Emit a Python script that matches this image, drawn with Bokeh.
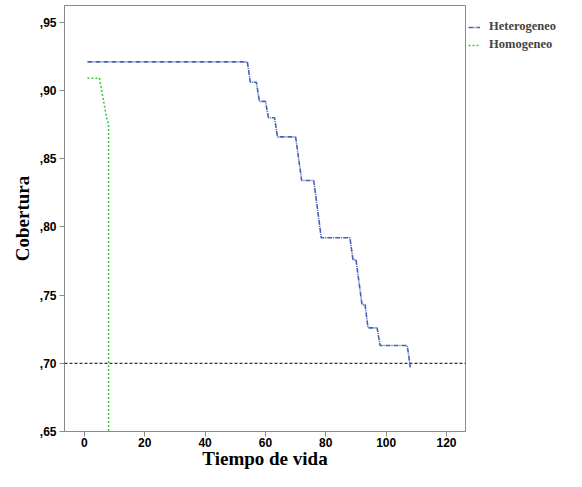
from bokeh.plotting import figure
from bokeh.models import Span, Legend, LegendItem, FixedTicker, Range1d, Title
from bokeh.embed import file_html
from bokeh.resources import INLINE

# Data
het_x = [1, 54, 55, 57, 58, 60, 61, 63, 64, 70, 72, 76, 78.5, 88, 89, 90, 92, 93, 94, 97, 98, 107, 108]
het_y = [0.921, 0.921, 0.906, 0.906, 0.892, 0.892, 0.880, 0.880, 0.866, 0.866, 0.834, 0.834,
         0.792, 0.792, 0.776, 0.776, 0.743, 0.743, 0.726, 0.726, 0.713, 0.713, 0.697]
hom_x = [1, 5, 7.5, 8, 8]
hom_y = [0.909, 0.909, 0.878, 0.876, 0.65]
ref_level = 0.70
xticks = [0, 20, 40, 60, 80, 100, 120]
yticks = [0.65, 0.70, 0.75, 0.80, 0.85, 0.90, 0.95]
ytick_labels = [",65", ",70", ",75", ",80", ",85", ",90", ",95"]

p = figure(frame_width=401, height=471, output_backend="svg", toolbar_location=None,
           x_range=Range1d(-6.6, 126.3), y_range=Range1d(0.65, 0.9623),
           min_border_left=55, min_border_right=100, min_border_top=5, min_border_bottom=38)

p.xgrid.visible = False
p.ygrid.visible = False
p.outline_line_color = "#8a8a8a"
p.outline_line_width = 1

r1 = p.line(het_x, het_y, line_color="#4560b8", line_width=1.6, line_dash="5 1 1 1")
r2 = p.line(hom_x, hom_y, line_color="#45c845", line_width=1.6, line_dash="2 2")

p.add_layout(Span(location=ref_level, dimension="width", line_color="black",
                  line_dash="3 2", line_width=1))

for ax in (p.xaxis[0], p.yaxis[0]):
    ax.axis_line_color = "#8a8a8a"
    ax.major_tick_line_color = "#8a8a8a"
    ax.minor_tick_line_color = None
    ax.major_tick_out = 5
    ax.major_tick_in = 0
    ax.major_label_text_font = "Liberation Sans"
    ax.major_label_text_font_style = "bold"
    ax.major_label_text_font_size = "12px"
    ax.major_label_text_color = "black"
    ax.axis_label_text_font = "Liberation Serif"
    ax.axis_label_text_font_style = "bold"
    ax.axis_label_text_color = "black"

p.xaxis.ticker = FixedTicker(ticks=xticks)
p.yaxis.ticker = FixedTicker(ticks=yticks)
p.yaxis.major_label_overrides = {t: l for t, l in zip(yticks, ytick_labels)}
p.xaxis.axis_label = "Tiempo de vida"
p.yaxis.axis_label = "Cobertura"
p.xaxis.axis_label_text_font_size = "19px"
p.yaxis.axis_label_text_font_size = "19px"
p.xaxis.major_label_standoff = 1
p.xaxis.axis_label_standoff = -2
p.yaxis.major_label_standoff = 3
p.yaxis.axis_label_standoff = 4

# small blank spacer outside the y-axis label
p.add_layout(Title(text=" ", text_font_size="5px", standoff=0, offset=0), "left")

legend = Legend(items=[LegendItem(label="Heterogeneo", renderers=[r1]),
                       LegendItem(label="Homogeneo", renderers=[r2])],
                title=" ", title_text_font_size="9px", title_standoff=1,
                location="top_left", border_line_color=None, background_fill_alpha=0,
                label_text_font="Liberation Serif", label_text_font_style="bold",
                label_text_font_size="12.5px", glyph_width=12, glyph_height=12,
                spacing=3, padding=4, margin=3, label_standoff=9)
p.add_layout(legend, "right")

open("out.html", "w").write(file_html(p, INLINE))
